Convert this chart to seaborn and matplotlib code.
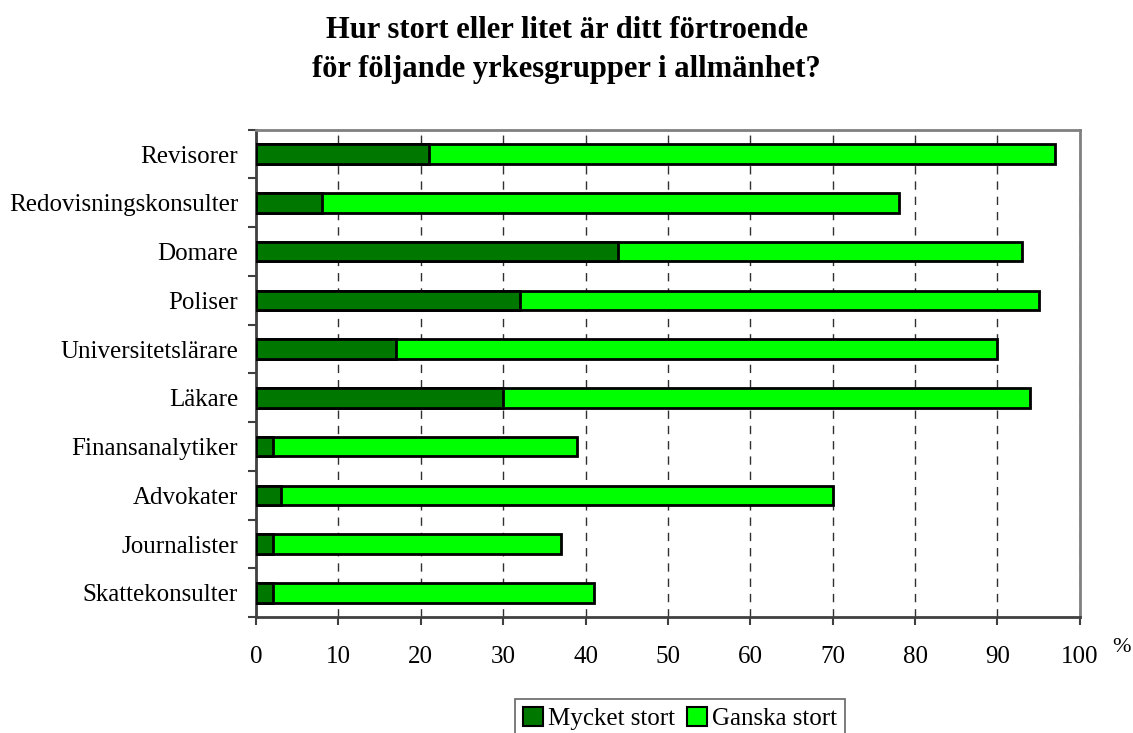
import numpy as np
import pandas as pd
import matplotlib
matplotlib.use("Agg")
import matplotlib.pyplot as plt
import seaborn as sns
from matplotlib.patches import Patch

yrken = ["Revisorer", "Redovisningskonsulter", "Domare", "Poliser",
         "Universitetslärare", "Läkare", "Finansanalytiker", "Advokater",
         "Journalister", "Skattekonsulter"]
mycket_stort = [21, 8, 44, 32, 17, 30, 2, 3, 2, 2]
ganska_stort = [76, 70, 49, 63, 73, 64, 37, 67, 35, 39]

df = pd.DataFrame({"Yrke": yrken,
                   "Mycket stort": mycket_stort,
                   "Ganska stort": ganska_stort})
df["Totalt"] = df["Mycket stort"] + df["Ganska stort"]

sns.set_style("white")
plt.rcParams["font.family"] = ["Liberation Serif", "DejaVu Serif"]
plt.rcParams["text.color"] = "black"
plt.rcParams["xtick.color"] = "black"
plt.rcParams["ytick.color"] = "black"

dark = "#007800"
light = "#00ff00"

fig = plt.figure(figsize=(11.33, 7.33), dpi=100)
ax = fig.add_axes([0.226, 0.158, 0.727, 0.665])

# totals first (light), dark part drawn on top
sns.barplot(data=df, y="Yrke", x="Totalt", color=light, width=0.4,
            edgecolor="black", linewidth=2, saturation=1, ax=ax, zorder=3)
sns.barplot(data=df, y="Yrke", x="Mycket stort", color=dark, width=0.4,
            edgecolor="black", linewidth=2, saturation=1, ax=ax, zorder=4)

ax.set_xlim(0, 100)
ax.set_ylim(len(yrken) - 0.5, -0.5)
ax.set_xticks(np.arange(0, 101, 10))
ax.set_xlabel("")
ax.set_ylabel("")

ax.set_yticks(np.arange(len(yrken) + 1) - 0.5, minor=True)
ax.tick_params(axis="y", which="major", length=0, labelsize=18, pad=13)
ax.tick_params(axis="y", which="minor", length=6, width=1.5,
               direction="out", color="#404040", left=True)
ax.tick_params(axis="x", length=6, width=1.5, direction="out",
               color="#404040", labelsize=18, pad=15, bottom=True)

ax.xaxis.grid(True, linestyle=(0, (6, 5)), color="#303030", linewidth=1)
ax.set_axisbelow(True)

for side, sp in ax.spines.items():
    sp.set_visible(True)
    sp.set_color("#808080")
    sp.set_linewidth(2)
ax.spines["left"].set_color("#404040")
ax.spines["bottom"].set_color("#404040")

fig.text(0.998, 0.117, "%", fontsize=16, ha="right", va="center")

fig.suptitle("Hur stort eller litet är ditt förtroende\nför följande yrkesgrupper i allmänhet?",
             fontsize=22, fontweight="bold", y=0.978, linespacing=1.45)

handles = [Patch(facecolor=dark, edgecolor="black", linewidth=1.5, label="Mycket stort"),
           Patch(facecolor=light, edgecolor="black", linewidth=1.5, label="Ganska stort")]
leg = fig.legend(handles=handles, loc="lower center", bbox_to_anchor=(0.6, -0.023),
                 ncol=2, fontsize=18, frameon=True, fancybox=False,
                 handlelength=0.8, handleheight=0.8, handletextpad=0.2,
                 columnspacing=0.5, borderpad=0.3)
leg.get_frame().set_edgecolor("#404040")
leg.get_frame().set_linewidth(1.2)

fig.savefig("out.png", dpi=100)
